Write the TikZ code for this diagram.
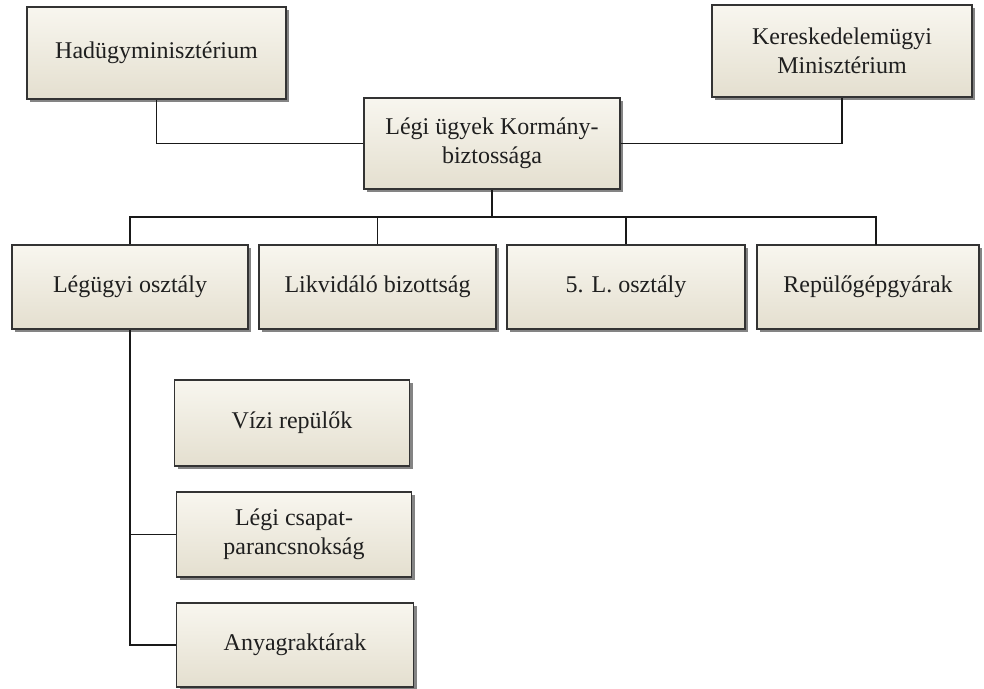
\documentclass[tikz,border=0pt]{standalone}
\usepackage{fontspec}
\setmainfont{Liberation Serif}
\usetikzlibrary{shadows}
\definecolor{boxtop}{HTML}{F8F6EF}
\definecolor{boxbot}{HTML}{E4DFCF}
\definecolor{boxline}{HTML}{333333}
\definecolor{shadowcol}{HTML}{6E6E6E}
\tikzset{
  box/.style={rectangle, draw=boxline, line width=1.8pt, top color=boxtop, bottom color=boxbot,
    drop shadow={shadow xshift=3pt, shadow yshift=-3pt, fill=shadowcol, opacity=0.85},
    align=center, inner sep=2pt, text=black!88,
    font=\fontsize{24}{29}\selectfont},
  link/.style={draw=black!90, line width=1.6pt}
}
\begin{document}
\begin{tikzpicture}[x=1pt,y=-1pt]
\useasboundingbox (0,0) rectangle (984,688);
\node[box, minimum width=259pt, minimum height=92pt] (h) at (156.5,53) {Hadügyminisztérium};
\node[box, minimum width=260pt, minimum height=92pt] (k) at (842,51) {Kereskedelemügyi\\Minisztérium};
\node[box, minimum width=256pt, minimum height=91pt] (c) at (492,143.5) {Légi ügyek Kormány-\\biztossága};
\node[box, minimum width=236pt, minimum height=84pt] (r1) at (130,287) {Légügyi osztály};
\node[box, minimum width=237pt, minimum height=84pt] (r2) at (377.5,287) {Likvidáló bizottság};
\node[box, minimum width=238pt, minimum height=84pt] (r3) at (626,287) {5. L. osztály};
\node[box, minimum width=222pt, minimum height=84pt] (r4) at (868,287) {Repülőgépgyárak};
\node[box, minimum width=235pt, minimum height=86pt] (l1) at (292,423) {Vízi repülők};
\node[box, minimum width=235pt, minimum height=85pt] (l2) at (294,534.5) {Légi csapat-\\parancsnokság};
\node[box, minimum width=237pt, minimum height=84pt] (l3) at (295,645) {Anyagraktárak};
\coordinate (bus) at (492,217);
\coordinate (r4top) at (876,245);
\coordinate (lft) at (130,534.5);
\draw[link] (h.south) |- (c.west);
\draw[link] (k.south) |- (c.east);
\draw[link] (c.south) -- (bus);
\draw[link] (r1.north) |- (bus) -| (r4top);
\draw[link] (r2.north) -- (r2.north |- bus);
\draw[link] (r3.north) -- (r3.north |- bus);
\draw[link] (r1.south) |- (l3.west);
\draw[link] (lft) -- (l2.west);
\end{tikzpicture}
\end{document}
